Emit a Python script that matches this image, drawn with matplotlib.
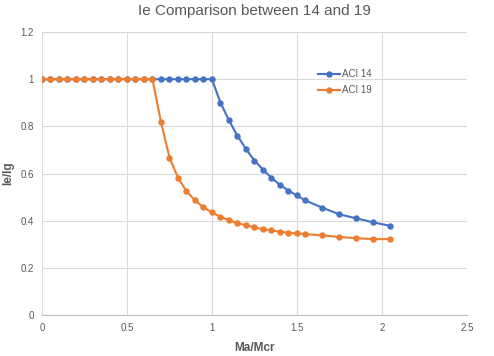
import matplotlib.pyplot as plt
import numpy as np

plt.rcParams["font.family"] = ["Liberation Sans", "DejaVu Sans"]

# ACI 14
x14 = [0, 0.05, 0.1, 0.15, 0.2, 0.25, 0.3, 0.35, 0.4, 0.45, 0.5, 0.55, 0.6, 0.65,
       0.7, 0.75, 0.8, 0.85, 0.9, 0.95, 1.0,
       1.05, 1.1, 1.15, 1.2, 1.25, 1.3, 1.35, 1.4, 1.45, 1.5, 1.55,
       1.65, 1.75, 1.85, 1.95, 2.05]
y14 = [1] * 21 + [0.901, 0.826, 0.760, 0.705, 0.655, 0.617, 0.582, 0.552, 0.528, 0.507, 0.486,
                  0.455, 0.427, 0.410, 0.393, 0.378]

# ACI 19
x19 = [0, 0.05, 0.1, 0.15, 0.2, 0.25, 0.3, 0.35, 0.4, 0.45, 0.5, 0.55, 0.6, 0.65,
       0.7, 0.75, 0.8, 0.85, 0.9, 0.95, 1.0,
       1.05, 1.1, 1.15, 1.2, 1.25, 1.3, 1.35, 1.4, 1.45, 1.5, 1.55,
       1.65, 1.75, 1.85, 1.95, 2.05]
y19 = [1] * 14 + [0.819, 0.668, 0.583, 0.525, 0.487, 0.457, 0.435,
                  0.417, 0.402, 0.390, 0.381, 0.372, 0.364, 0.359, 0.353, 0.349, 0.346, 0.343,
                  0.338, 0.331, 0.326, 0.322, 0.322]

blue = "#4472C4"
orange = "#ED7D31"
grey = "#595959"

fig = plt.figure(figsize=(4.94, 3.56), dpi=100)
ax = fig.add_axes([0.085, 0.115, 0.86, 0.795])

ax.plot(x14, y14, color=blue, lw=1.5, marker="o", ms=3.6, label="ACI 14")
ax.plot(x19, y19, color=orange, lw=1.5, marker="o", ms=3.6, label="ACI 19")

ax.set_xlim(0, 2.5)
ax.set_ylim(0, 1.2)
ax.set_xticks(np.arange(0, 2.51, 0.5))
ax.set_xticklabels(["0", "0.5", "1", "1.5", "2", "2.5"])
ax.set_yticks(np.arange(0, 1.21, 0.2))
ax.set_yticklabels(["0", "0.2", "0.4", "0.6", "0.8", "1", "1.2"])
ax.grid(True, color="#D9D9D9", lw=0.8)
ax.set_axisbelow(True)
for s in ["top", "right", "left"]:
    ax.spines[s].set_visible(False)
ax.spines["bottom"].set_color("#BFBFBF")
ax.tick_params(length=0, labelsize=7, colors=grey, pad=6)

ax.set_title("Ie Comparison between 14 and 19", fontsize=11, color=grey, pad=12)
ax.set_xlabel("Ma/Mcr", fontsize=8.5, fontweight="bold", color=grey, labelpad=6)
ax.set_ylabel("Ie/Ig", fontsize=8.5, fontweight="bold", color=grey)
ax.yaxis.set_label_coords(-0.066, 0.5)

ax.legend(loc="upper left", bbox_to_anchor=(0.63, 0.9), frameon=False,
          fontsize=7, labelcolor=grey, handlelength=2.2, handletextpad=0.2,
          labelspacing=0.6)

fig.savefig("out.png")
